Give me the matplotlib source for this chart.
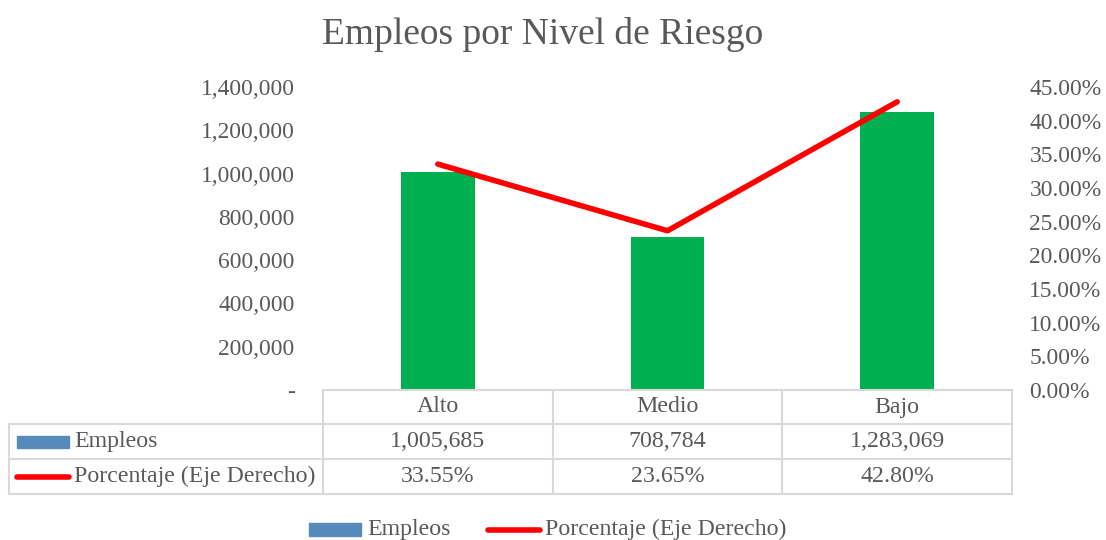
import matplotlib
matplotlib.use("Agg")
import matplotlib.pyplot as plt
from matplotlib.lines import Line2D
from matplotlib.patches import Rectangle
from matplotlib.ticker import FuncFormatter, MultipleLocator

plt.rcParams['font.family'] = ['Liberation Serif', 'DejaVu Serif']

categories = ["Alto", "Medio", "Bajo"]
empleos = [1005685, 708784, 1283069]
porcentaje = [33.55, 23.65, 42.80]
series_names = ["Empleos", "Porcentaje (Eje Derecho)"]
title = "Empleos por Nivel de Riesgo"

TXT = "#595959"
GRID = "#D9D9D9"
BAR = "#00B050"
LEGBLUE = "#558ABA"
RED = "#FF0000"
FS = 17.2
TFS = 16.9

W, H = 1106, 540
fig = plt.figure(figsize=(W / 100, H / 100), dpi=100)

def fx(px):
    return px / W

def fy(py):
    return 1 - py / H

L, R, T, B = 323, 1012, 87, 390
ax = fig.add_axes([fx(L), fy(B), fx(R) - fx(L), fy(T) - fy(B)])
x = list(range(len(categories)))
ax.bar(x, empleos, width=0.32, color=BAR, zorder=2)
ax.set_xlim(-0.5, len(categories) - 0.5)
ax.set_ylim(0, 1400000)
ax.yaxis.set_major_locator(MultipleLocator(200000))
ax.yaxis.set_major_formatter(FuncFormatter(lambda v, p: "-" if v == 0 else f"{v:,.0f}"))
ax.set_xticks([])
for s in ["top", "right", "left"]:
    ax.spines[s].set_visible(False)
ax.spines["bottom"].set_color(GRID)
ax.spines["bottom"].set_linewidth(1.5)
ax.tick_params(axis="y", length=0, pad=27 - 27 + 27 * 0 + 20.5, labelsize=TFS, labelcolor=TXT)

ax2 = ax.twinx()
ax2.plot(x, porcentaje, color=RED, lw=4, solid_capstyle="round", zorder=3)
ax2.set_ylim(0, 45)
ax2.yaxis.set_major_locator(MultipleLocator(5))
ax2.yaxis.set_major_formatter(FuncFormatter(lambda v, p: f"{v:.2f}%"))
for s in ["top", "right", "left", "bottom"]:
    ax2.spines[s].set_visible(False)
ax2.tick_params(axis="y", length=0, pad=12.5, labelsize=TFS, labelcolor=TXT)
ax2.set_xlim(-0.5, len(categories) - 0.5)

fig.text(fx(542.5), fy(35), title, ha="center", va="center", fontsize=27, color=TXT)

# data table
rows_y = [390, 424, 459, 494]
TL = 9
col_w = (R - L) / len(categories)
col_x = [L + i * col_w for i in range(len(categories) + 1)]

def hline(y, x0, x1):
    fig.add_artist(Line2D([fx(x0), fx(x1)], [fy(y), fy(y)], color=GRID, lw=1.5))

def vline(xp, y0, y1):
    fig.add_artist(Line2D([fx(xp), fx(xp)], [fy(y0), fy(y1)], color=GRID, lw=1.5))

hline(rows_y[1], TL, R)
hline(rows_y[2], TL, R)
hline(rows_y[3], TL, R)
for cx in col_x:
    vline(cx, rows_y[0], rows_y[3])
vline(TL, rows_y[1], rows_y[3])

for i, c in enumerate(categories):
    cx = (col_x[i] + col_x[i + 1]) / 2
    fig.text(fx(cx), fy((rows_y[0] + rows_y[1]) / 2), c, ha="center", va="center", fontsize=FS, color=TXT)
    fig.text(fx(cx), fy((rows_y[1] + rows_y[2]) / 2), f"{empleos[i]:,}", ha="center", va="center", fontsize=FS, color=TXT)
    fig.text(fx(cx), fy((rows_y[2] + rows_y[3]) / 2), f"{porcentaje[i]:.2f}%", ha="center", va="center", fontsize=FS, color=TXT)

# legend keys in table
y1 = (rows_y[1] + rows_y[2]) / 2
y2 = (rows_y[2] + rows_y[3]) / 2
fig.add_artist(Rectangle((fx(17), fy(y1 + 6)), fx(69) - fx(17), fy(y1 - 6) - fy(y1 + 6), color=LEGBLUE))
fig.text(fx(74), fy(y1), series_names[0], ha="left", va="center", fontsize=FS, color=TXT)
fig.add_artist(Line2D([fx(17), fx(69)], [fy(y2), fy(y2)], color=RED, lw=4, solid_capstyle="round"))
fig.text(fx(74), fy(y2), series_names[1], ha="left", va="center", fontsize=FS, color=TXT)

# bottom legend
ly = 529.5
fig.add_artist(Rectangle((fx(309), fy(ly + 6.5)), fx(361) - fx(309), fy(ly - 6.5) - fy(ly + 6.5), color=LEGBLUE))
fig.text(fx(367), fy(ly), series_names[0], ha="left", va="center", fontsize=FS, color=TXT)
fig.add_artist(Line2D([fx(488), fx(540)], [fy(ly), fy(ly)], color=RED, lw=4, solid_capstyle="round"))
fig.text(fx(545), fy(ly), series_names[1], ha="left", va="center", fontsize=FS, color=TXT)

fig.savefig("out.png", dpi=100)
